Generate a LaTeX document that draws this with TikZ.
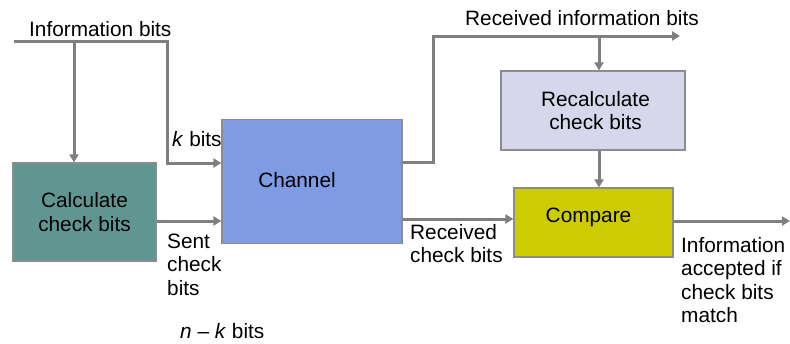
\documentclass[tikz,border=0pt]{standalone}
\usepackage{fontspec}
\setmainfont{Liberation Sans}
\usetikzlibrary{arrows.meta}
\definecolor{linegray}{HTML}{7F7F7F}
\definecolor{edgegray}{HTML}{8C8C8C}
\definecolor{calcfill}{HTML}{5F9692}
\definecolor{chanfill}{HTML}{7F9BE3}
\definecolor{recalcfill}{HTML}{D7D7EB}
\definecolor{compfill}{HTML}{CCCC00}
\tikzset{
  block/.style={draw=edgegray, line width=1.2bp, inner sep=0pt, align=center},
  arr/.style={draw=linegray, line width=3bp,
    -{Triangle[length=8bp,width=9bp]}},
  lbl/.style={anchor=base west, inner sep=0pt},
}
\newcommand{\lns}[1]{\begin{tabular}[t]{@{}l@{}}#1\end{tabular}}
\begin{document}
\begin{tikzpicture}[x=1bp, y=-1bp, font=\fontsize{20.8bp}{23.5bp}\selectfont]
\useasboundingbox (0,0) rectangle (790,343);

% processing blocks
\node[block, fill=calcfill, minimum width=143bp, minimum height=98bp]
  (calc) at (84.5,212) {Calculate\\check bits};
\node[block, fill=chanfill, minimum width=180bp, minimum height=124bp,
  text height=15.3bp, text depth=4bp]
  (chan) at (312,181.5) {Channel\hspace*{30bp}};
\node[block, fill=recalcfill, minimum width=184bp, minimum height=79bp]
  (recalc) at (593,110.5) {\hspace*{5bp}Recalculate\\\hspace*{5bp}check bits};
\node[block, fill=compfill, minimum width=159bp, minimum height=69bp,
  text height=15.5bp, text depth=16.5bp]
  (comp) at (593.5,222.5) {Compare\hspace*{10bp}};

% free ends and branch points
\coordinate (in0) at (14,41);
\coordinate (br1) at (74,41);
\coordinate (rout) at (680,36);
\coordinate (tap) at (599,36);
\coordinate (out) at (790,221);

% sender side
\draw[arr] (in0) -- ++(153,0) |- ([yshift=18.5bp]chan.west);
\draw[arr] (br1) -- (br1 |- calc.north);
\draw[arr] ([yshift=-9bp]calc.east) -- ([yshift=-9bp]calc.east -| chan.west);

% receiver side
\draw[arr] ([yshift=19.5bp]chan.east) -- ++(31,0) |- (rout);
\draw[arr] (tap) -- (tap |- recalc.north);
\draw[arr] (tap |- recalc.south) -- (tap |- comp.north);
\draw[arr] ([yshift=-37.5bp]chan.east) -- ([yshift=-37.5bp]chan.east -| comp.west);
\draw[arr] (comp.east |- out) -- (out);

% labels
\node[lbl] (linfo) at (29,36) {Information bits};
\node[lbl] (lk) at (172,146) {\textit{k} bits};
\node[lbl] (lsent) at (167,248) {\lns{Sent\\check\\bits}};
\node[lbl] (lnk) at (180,338) {\textit{n} – \textit{k} bits};
\node[lbl] (lrinfo) at (465,25) {Received information bits};
\node[lbl] (lrcheck) at (410,239) {\lns{Received\\check bits}};
\node[lbl] (lacc) at (681,252) {\lns{Information\\accepted if\\check bits\\match}};
\end{tikzpicture}
\end{document}
